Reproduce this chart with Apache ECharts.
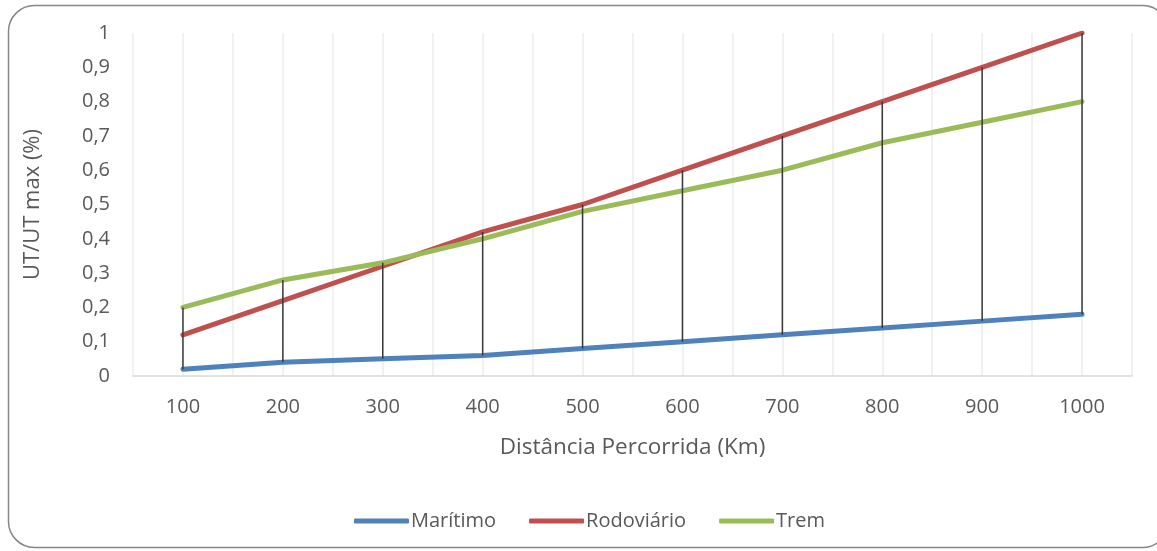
<!DOCTYPE html>
<html>
<head>
<meta charset="utf-8">
<script src="https://cdn.jsdelivr.net/npm/echarts@6/dist/echarts.min.js"></script>
<style>
  html, body { margin: 0; padding: 0; background: #ffffff; }
  #chart { width: 1157px; height: 551px; }
</style>
</head>
<body>
<div id="chart"></div>
<script>
// Distance travelled (km) and normalised utility per transport mode
const distancias = [100, 200, 300, 400, 500, 600, 700, 800, 900, 1000];
const maritimo   = [0.02, 0.04, 0.05, 0.06, 0.08, 0.10, 0.12, 0.14, 0.16, 0.18];
const rodoviario = [0.12, 0.22, 0.32, 0.42, 0.50, 0.60, 0.70, 0.80, 0.90, 1.00];
const trem       = [0.20, 0.28, 0.33, 0.40, 0.48, 0.54, 0.60, 0.68, 0.74, 0.80];

const seriesNames = ['Marítimo', 'Rodoviário', 'Trem'];
const seriesColors = ['#4f81bd', '#c0504d', '#9bbb59'];

const FONT = '"Open Sans", "Liberation Sans", sans-serif';
const TEXT = '#595959';

const pairs = arr => distancias.map((d, i) => [d, arr[i]]);

// High-low connectors: from the lowest to the highest series value at each distance
const highLow = distancias.map((d, i) => {
  const vals = [maritimo[i], rodoviario[i], trem[i]];
  return [d, Math.min.apply(null, vals), Math.max.apply(null, vals)];
});

const chart = echarts.init(document.getElementById('chart'));

const lineSeries = [maritimo, rodoviario, trem].map((arr, k) => ({
  name: seriesNames[k],
  type: 'line',
  data: pairs(arr),
  showSymbol: false,
  symbol: 'none',
  color: seriesColors[k],
  lineStyle: { width: 5, color: seriesColors[k], cap: 'round', join: 'round' },
  z: 2,
  animation: false
}));

chart.setOption({
  animation: false,
  graphic: [{
    type: 'rect',
    shape: { x: 8.5, y: 5.5, width: 1160, height: 542, r: 26 },
    style: { fill: 'none', stroke: '#868686', lineWidth: 1.5 },
    z: -10,
    silent: true
  }],
  grid: { left: 133, right: 25, top: 33, bottom: 175, containLabel: false },
  legend: {
    data: seriesNames.map(n => ({ name: n, icon: 'roundRect' })),
    left: 349,
    top: 506,
    itemWidth: 55,
    itemHeight: 5,
    itemGap: 33,
    textStyle: { fontFamily: FONT, fontSize: 20, color: TEXT, padding: [0, 0, 0, -3] }
  },
  xAxis: {
    type: 'value',
    min: 50,
    max: 1050,
    interval: 50,
    name: 'Distância Percorrida (Km)',
    nameLocation: 'middle',
    nameGap: 60,
    nameTextStyle: { fontFamily: FONT, fontSize: 22.5, color: TEXT },
    axisLine: { show: true, lineStyle: { color: '#d9d9d9', width: 1.5 } },
    axisTick: { show: false },
    axisLabel: {
      margin: 21,
      fontFamily: FONT,
      fontSize: 20,
      color: TEXT,
      showMinLabel: false,
      showMaxLabel: false,
      formatter: v => (v % 100 === 0 && v >= 100 && v <= 1000) ? String(v) : ''
    },
    splitLine: { show: true, lineStyle: { color: '#ececec', width: 1.5 } }
  },
  yAxis: {
    type: 'value',
    min: 0,
    max: 1,
    interval: 0.1,
    name: 'UT/UT max (%)',
    nameLocation: 'middle',
    nameGap: 89,
    nameTextStyle: { fontFamily: FONT, fontSize: 22, color: TEXT },
    axisLine: { show: false },
    axisTick: { show: false },
    axisLabel: {
      margin: 23,
      fontFamily: FONT,
      fontSize: 20,
      color: TEXT,
      formatter: v => String(Math.round(v * 10) / 10).replace('.', ',')
    },
    splitLine: { show: false }
  },
  series: lineSeries.concat([{
    type: 'custom',
    name: 'highLow',
    data: highLow,
    z: 3,
    silent: true,
    renderItem: (params, api) => {
      const x = api.value(0);
      const p1 = api.coord([x, api.value(1)]);
      const p2 = api.coord([x, api.value(2)]);
      return {
        type: 'line',
        shape: { x1: p1[0], y1: p1[1], x2: p2[0], y2: p2[1] },
        style: { stroke: '#3a3a3a', lineWidth: 1.5 }
      };
    }
  }])
});
</script>
</body>
</html>
